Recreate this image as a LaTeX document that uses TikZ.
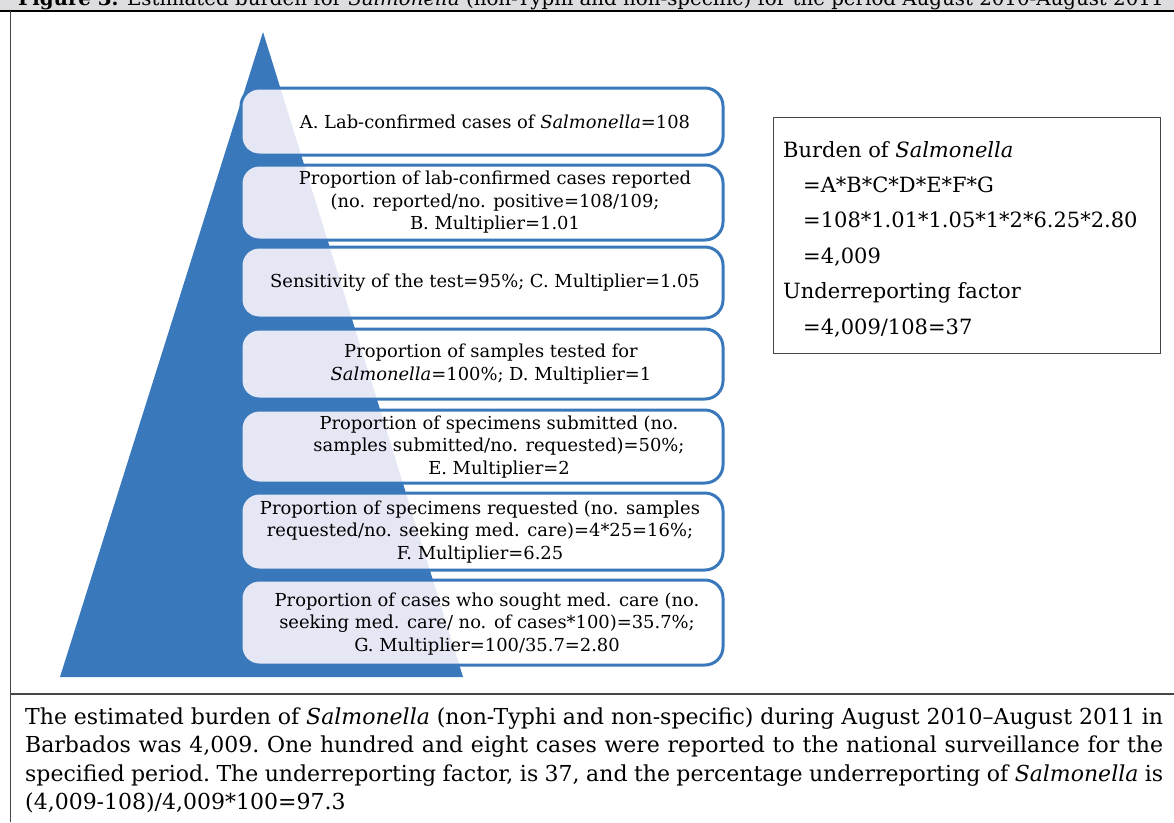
\documentclass[tikz,border=0pt]{standalone}
\usepackage{fontspec}
\setmainfont{DejaVu Serif}
\definecolor{triblue}{RGB}{58,120,188}
\definecolor{lav}{RGB}{229,231,245}
\definecolor{band}{RGB}{221,221,223}
\definecolor{frame}{RGB}{70,70,70}
\tikzset{
  boxshape/.style={rectangle, inner sep=0pt, outer sep=0pt, minimum width=482pt},
  boxline/.style={draw=triblue, line width=3pt, rounded corners=18pt},
  boxtext/.style={align=center, inner sep=0pt, font=\fontsize{17.9}{22.5}\selectfont},
  rtext/.style={anchor=base west, inner sep=0pt, font=\fontsize{21}{25}\selectfont},
  ptext/.style={anchor=base west, inner sep=0pt, font=\fontsize{22}{26}\selectfont},
}
\begin{document}
\begin{tikzpicture}[x=1pt,y=-1pt]
\useasboundingbox (0,0) rectangle (1174,822);
\clip (0,0) rectangle (1174,822);
% title band
\fill[band] (0,0) rectangle (1174,10);
\node[anchor=base west, inner sep=0pt, font=\fontsize{19.8}{24}\selectfont] (title) at (18,5)
  {\textbf{Figure 3.} Estimated burden for \textit{Salmonella} (non-Typhi and non-specific) for the period August 2010-August 2011};
\draw[black, line width=2pt] (0,11) -- (1174,11);
\draw[frame, line width=1.5pt] (10.5,11) -- (10.5,822);
\draw[frame, line width=1.5pt] (10.5,694) -- (1174,694);
% pyramid
\coordinate (apex) at (263,32);
\coordinate (bl) at (60,677);
\coordinate (br) at (463,677);
\fill[triblue] (apex) -- (bl) -- (br) -- cycle;
% boxes
\foreach \n/\cy/\h in {b1/121.5/67, b2/202.5/75, b3/282.5/71, b4/364/70, b5/446.5/73, b6/531.5/77, b7/622.5/85}{
  \node[boxshape, minimum height=\h pt] (\n) at (482,\cy) {};
  \fill[white, rounded corners=18pt] (\n.south west) rectangle (\n.north east);
  \begin{scope}
    \clip[rounded corners=18pt] (\n.south west) rectangle (\n.north east);
    \fill[lav] (apex) -- (bl) -- (br) -- cycle;
  \end{scope}
  \draw[boxline] (\n.south west) rectangle (\n.north east);
}
% box texts
\node[boxtext] (t1) at (495,122) {A. Lab-confirmed cases of \textit{Salmonella}=108};
\node[boxtext] (t2) at (495,202.5) {Proportion of lab-confirmed cases reported\\(no. reported/no. positive=108/109;\\B. Multiplier=1.01};
\node[boxtext] (t3) at (485,282.5) {Sensitivity of the test=95\%; C. Multiplier=1.05};
\node[boxtext] (t4) at (491,364) {Proportion of samples tested for\\\textit{Salmonella}=100\%; D. Multiplier=1};
\node[boxtext] (t5) at (499,447) {Proportion of specimens submitted (no.\\samples submitted/no. requested)=50\%;\\E. Multiplier=2};
\node[boxtext] (t6) at (480,532) {Proportion of specimens requested (no. samples\\requested/no. seeking med. care)=4*25=16\%;\\F. Multiplier=6.25};
\node[boxtext] (t7) at (487,624) {Proportion of cases who sought med. care (no.\\seeking med. care/ no. of cases*100)=35.7\%;\\G. Multiplier=100/35.7=2.80};
% right box
\node[draw=frame, line width=1.2pt, rectangle, inner sep=0pt, minimum width=387pt, minimum height=236pt, anchor=north west] (rb) at (773,117) {};
\node[rtext] (r1) at (783,157) {Burden of \textit{Salmonella}};
\node[rtext] (r2) at (803,192.4) {=A*B*C*D*E*F*G};
\node[rtext] (r3) at (803,227.8) {=108*1.01*1.05*1*2*6.25*2.80};
\node[rtext] (r4) at (803,263.2) {=4,009};
\node[rtext] (r5) at (783,298.6) {Underreporting factor};
\node[rtext] (r6) at (803,334) {=4,009/108=37};
% bottom paragraph
\node[ptext] (p1) at (25,724) {\makebox[1138pt][s]{The estimated burden of \textit{Salmonella} (non-Typhi and non-specific) during August 2010--August 2011 in}};
\node[ptext] (p2) at (25,752.5) {\makebox[1138pt][s]{Barbados was 4,009.\ One hundred and eight cases were reported to the national surveillance for the}};
\node[ptext] (p3) at (25,781) {\makebox[1138pt][s]{specified period.\ The underreporting factor, is 37, and the percentage underreporting of \textit{Salmonella} is}};
\node[ptext] (p4) at (25,809.5) {(4,009-108)/4,009*100=97.3};
\end{tikzpicture}
\end{document}
